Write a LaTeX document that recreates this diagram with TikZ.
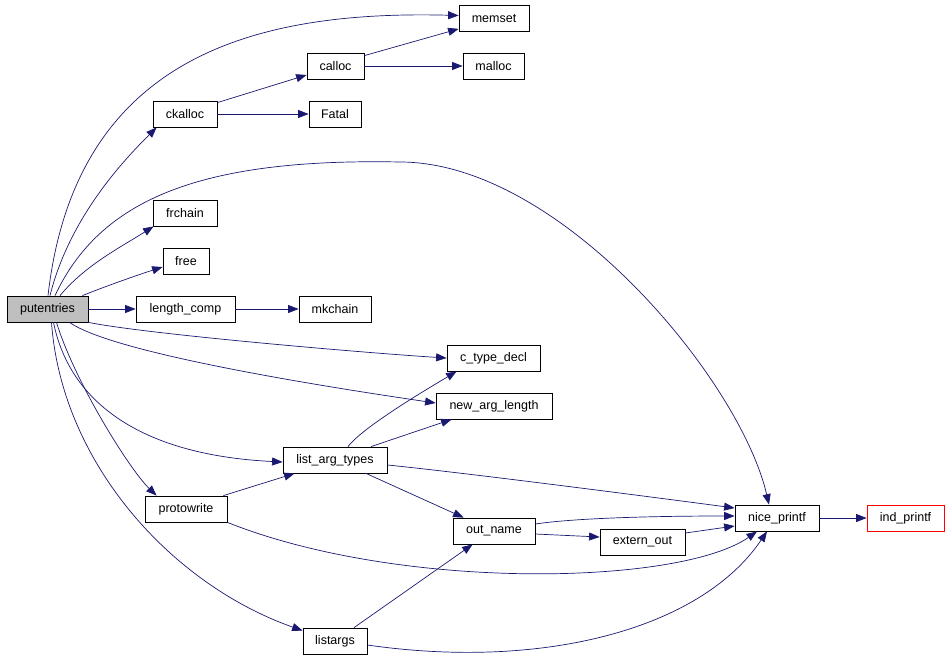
\documentclass[tikz,border=0pt]{standalone}
\usepackage{fontspec}
\setmainfont{Liberation Sans}
\usetikzlibrary{arrows.meta, calc}
\definecolor{edgenavy}{RGB}{25,25,112}
\definecolor{rootgray}{RGB}{191,191,191}

\begin{document}
\begin{tikzpicture}[
    x=1pt, y=-1pt,
    every node/.style={font=\fontsize{12.5}{14}\selectfont, align=center},
    fn/.style={rectangle, draw=black, fill=white, line width=0.8pt, minimum height=26pt, inner sep=0pt},
    root/.style={fn, fill=rootgray},
    leaf/.style={fn, draw=red},
    call/.style={-{Triangle[length=10.5pt, width=8pt]}, line width=0.7pt, draw=edgenavy, fill=none, color=edgenavy}
]
\useasboundingbox (0,0) rectangle (949,663);

% ================= CALLER =================
\node[root, minimum width=81pt] (putentries) at (47.5,309) {putentries};

% ================= FIRST LEVEL =================
\node[fn, minimum width=64pt] (ckalloc) at (185,114) {ckalloc};
\node[fn, minimum width=64pt] (frchain) at (185,213) {frchain};
\node[fn, minimum width=46pt] (free) at (186,261) {free};
\node[fn, minimum width=99pt] (lengthcomp) at (185.5,309) {length\_comp};
\node[fn, minimum width=82pt] (protowrite) at (186,509) {protowrite};

% ================= SECOND LEVEL =================
\node[fn, minimum width=57pt] (calloc) at (335.5,66) {calloc};
\node[fn, minimum width=52pt] (fatal) at (335,114) {Fatal};
\node[fn, minimum width=72pt] (mkchain) at (335,309) {mkchain};
\node[fn, minimum width=104pt] (listargtypes) at (335,460) {list\_arg\_types};
\node[fn, minimum width=64pt] (listargs) at (335,641) {listargs};

% ================= THIRD LEVEL =================
\node[fn, minimum width=70pt] (memset) at (494,18.5) {memset};
\node[fn, minimum width=61pt] (malloc) at (493.5,66) {malloc};
\node[fn, minimum width=93pt] (ctypedecl) at (493.5,358) {c\_type\_decl};
\node[fn, minimum width=116pt] (newarglength) at (494,406) {new\_arg\_length};
\node[fn, minimum width=82pt] (outname) at (494,531) {out\_name};

% ================= OUTPUT CHAIN =================
\node[fn, minimum width=85pt] (externout) at (642.5,542) {extern\_out};
\node[fn, minimum width=84pt] (niceprintf) at (777,518) {nice\_printf};
\node[leaf, minimum width=77pt] (indprintf) at (905.5,518) {ind\_printf};

% ================= CALLS FROM putentries =================
\draw[call] ([xshift=0.5pt]putentries.north) .. controls +(27,-236) and +(-209,-5.5) .. ([yshift=3pt]memset.west);
\draw[call] ([xshift=2.5pt]putentries.north) .. controls +(20,-80) and +(-30,30) .. ([xshift=4pt]ckalloc.south west);
\draw[call] ([xshift=7.5pt]putentries.north) .. controls +(45,-96) and +(-200,-4) .. (400,162)
    .. controls +(160,0) and +(-29,-125) .. ([xshift=-8pt]niceprintf.north);
\draw[call] ([xshift=12.5pt]putentries.north) .. controls +(25,-30) and +(-35,22) .. ([xshift=1pt]frchain.south west);
\draw[call] ([xshift=-6pt]putentries.north east) .. controls +(25,-10) and +(-25,8) .. ([yshift=-6pt]free.west);
\draw[call] (putentries) -- (lengthcomp);
\draw[call] (putentries.south east) .. controls +(60,12) and +(-80,-5) .. (ctypedecl.west);
\draw[call] ([xshift=22pt]putentries.south) .. controls +(40,28) and +(-150,-22) .. ([yshift=3pt]newarglength.west);
\draw[call] ([xshift=6pt]putentries.south) .. controls +(16,79) and +(-143,-7) .. ([yshift=-2pt]listargtypes.west);
\draw[call] ([xshift=9pt]putentries.south) .. controls +(18,59) and +(-27,-26) .. ([xshift=12pt]protowrite.north west);
\draw[call] ([xshift=4pt]putentries.south) .. controls +(10,139) and +(-133,-47) .. ([yshift=-3pt]listargs.north west);

% ================= ALLOCATION =================
\draw[call] ([yshift=-2pt]ckalloc.north east) -- ([yshift=-9pt]calloc.west);
\draw[call] (ckalloc) -- (fatal);
\draw[call] ([yshift=-3pt]calloc.north east) -- ([yshift=3pt]memset.south west);
\draw[call] (calloc) -- (malloc);
\draw[call] (lengthcomp) -- (mkchain);

% ================= ARGUMENT LISTS =================
\draw[call] ([xshift=13pt]listargtypes.north) .. controls +(15,-20) and +(-25,15) .. ([xshift=10pt]ctypedecl.south west);
\draw[call] ([xshift=36pt]listargtypes.north) -- ([xshift=16pt]newarglength.south west);
\draw[call] ([yshift=-5pt]listargtypes.east) .. controls +(80,8) and +(-60,-8) .. ([yshift=10pt]niceprintf.west);
\draw[call] ([xshift=31pt]listargtypes.south) -- ([xshift=11pt]outname.north west);
\draw[call] ([xshift=-4pt]protowrite.north east) -- ([xshift=12pt]listargtypes.south west);
\draw[call] (protowrite.south east) .. controls +(173,69) and +(-77,54) .. ([xshift=-20pt]niceprintf.south);
\draw[call] ([xshift=19pt]listargs.north) -- ([xshift=20pt]outname.south west);
\draw[call] ([yshift=-4pt]listargs.east) .. controls +(173,25) and +(-67,99) .. ([xshift=-10pt]niceprintf.south);

% ================= PRINTING =================
\draw[call] ([yshift=7pt]outname.east) .. controls +(40,-6) and +(-80,0) .. ([yshift=2pt]niceprintf.west);
\draw[call] ([yshift=-3pt]outname.east) -- ([yshift=5pt]externout.west);
\draw[call] ([yshift=9pt]externout.east) -- ([yshift=-8pt]niceprintf.west);
\draw[call] (niceprintf) -- (indprintf);

\end{tikzpicture}
\end{document}
